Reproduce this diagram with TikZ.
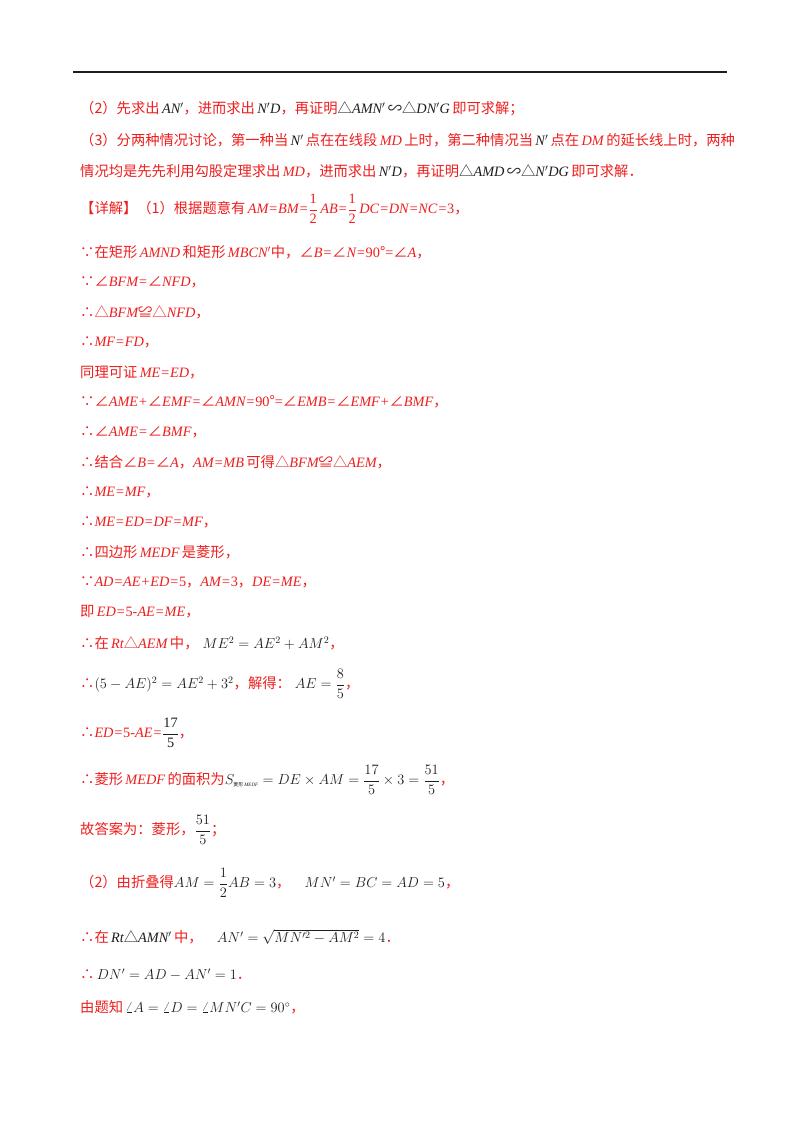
\documentclass[tikz,border=0pt]{standalone}
\usepackage{amsmath}
\usepackage{fontspec}
\setmainfont{Noto Sans CJK SC}
\newfontfamily\cjk{Noto Sans CJK SC}
\newfontfamily\lat{Liberation Serif}
\newcommand{\mi}[1]{{\lat\itshape #1}}
\newcommand{\mr}[1]{{\lat #1}}
\definecolor{rd}{RGB}{238,30,30}
\definecolor{bk}{RGB}{30,30,30}
\newcommand{\bm}[1]{{\color{bk}\lat\itshape #1}}
\newcommand{\fr}[2]{\ensuremath{\dfrac{\text{\lat #1}}{\text{\lat #2}}}}
\begin{document}
\begin{tikzpicture}[x=1pt,y=-1pt,
  ln/.style={anchor=west,inner sep=0pt,text=rd,font=\fontsize{14.3}{16}\selectfont}]
\useasboundingbox (0,0) rectangle (800,1132);
\fill[white] (0,0) rectangle (800,1132);
\coordinate (r1) at (73,72); \coordinate (r2) at (727,72);
\draw[line width=1.3pt,bk] (r1) -- (r2);
\node[ln] (l1) at (80,109) {（2）先求出\,\bm{AN$'$}，进而求出\,\bm{N$'$D}，再证明\textcolor{bk}{△}\bm{AMN$'$}\,\textcolor{bk}{∽△}\bm{DN$'$G}\,即可求解；};
\node[ln] (l2) at (80,140) {（3）分两种情况讨论，第一种当\,\bm{N$'$}\,点在在线段\,\mi{MD}\,上时，第二种情况当\,\bm{N$'$}\,点在\,\mi{DM}\,的延长线上时，两种};
\node[ln] (l3) at (80,171) {情况均是先先利用勾股定理求出\,\mi{MD}，进而求出\,\bm{N$'$D}，再证明\textcolor{bk}{△}\bm{AMD}\,\textcolor{bk}{∽△}\bm{N$'$DG}\,即可求解．};
\node[ln] (l4) at (80,209) {【详解】（1）根据题意有\,\mi{AM=BM=}\fr{1}{2}\,\mi{AB=}\fr{1}{2}\,\mi{DC=DN=NC=}\mr{3}，};
\node[ln] (l5) at (80,252) {∵在矩形\,\mi{AMND}\,和矩形\,\mi{MBCN$'$}中，∠\mi{B=}∠\mi{N=}\mr{90}°\mr{=}∠\mi{A}，};
\node[ln] (l6) at (80,282) {∵∠\mi{BFM=}∠\mi{NFD}，};
\node[ln] (l7) at (80,312) {∴△\mi{BFM}≌△\mi{NFD}，};
\node[ln] (l8) at (80,342) {∴\mi{MF=FD}，};
\node[ln] (l9) at (80,372) {同理可证\,\mi{ME=ED}，};
\node[ln] (l10) at (80,402) {∵∠\mi{AME+}∠\mi{EMF=}∠\mi{AMN=}\mr{90}°\mr{=}∠\mi{EMB=}∠\mi{EMF+}∠\mi{BMF}，};
\node[ln] (l11) at (80,432) {∴∠\mi{AME=}∠\mi{BMF}，};
\node[ln] (l12) at (80,462) {∴结合∠\mi{B=}∠\mi{A}，\mi{AM=MB}\,可得△\mi{BFM}≌△\mi{AEM}，};
\node[ln] (l13) at (80,492) {∴\mi{ME=MF}，};
\node[ln] (l14) at (80,522) {∴\mi{ME=ED=DF=MF}，};
\node[ln] (l15) at (80,552) {∴四边形\,\mi{MEDF}\,是菱形，};
\node[ln] (l16) at (80,582) {∵\mi{AD=AE+ED=}\mr{5}，\mi{AM=}\mr{3}，\mi{DE=ME}，};
\node[ln] (l17) at (80,612) {即\,\mi{ED=}\mr{5-}\mi{AE=ME}，};
\node[ln] (l18) at (80,643) {∴在\,\mi{Rt}△\mi{AEM}\,中，\;\textcolor{bk}{$ME^2=AE^2+AM^2$}，};
\node[ln] (l19) at (80,684) {∴\textcolor{bk}{$(5-AE)^2=AE^2+3^2$}，解得：\;\textcolor{bk}{$AE=\dfrac{8}{5}$}，};
\node[ln] (l20) at (80,733) {∴\mi{ED=}\mr{5-}\mi{AE=}\textcolor{bk}{\fr{17}{5}}，};
\node[ln] (l21) at (80,780) {∴菱形\,\mi{MEDF}\,的面积为\textcolor{bk}{$S_{\text{\tiny\cjk 菱形\,\lat\itshape MEDF}}=DE\times AM=\dfrac{17}{5}\times3=\dfrac{51}{5}$}，};
\node[ln] (l22) at (80,830) {故答案为：菱形，\textcolor{bk}{$\dfrac{51}{5}$}；};
\node[ln] (l23) at (80,883) {（2）由折叠得\textcolor{bk}{$AM=\dfrac{1}{2}AB=3$}，\quad\textcolor{bk}{$MN'=BC=AD=5$}，};
\node[ln] (l24) at (80,937) {∴在\,\bm{Rt}\textcolor{bk}{△}\bm{AMN$'$}\,中，\quad\textcolor{bk}{$AN'=\sqrt{MN'^2-AM^2}=4$}．};
\node[ln] (l25) at (80,975) {∴\,\textcolor{bk}{$DN'=AD-AN'=1$}．};
\node[ln] (l26) at (80,1007) {由题知\,\textcolor{bk}{$\angle A=\angle D=\angle MN'C=90^\circ$}，};
\end{tikzpicture}
\end{document}
